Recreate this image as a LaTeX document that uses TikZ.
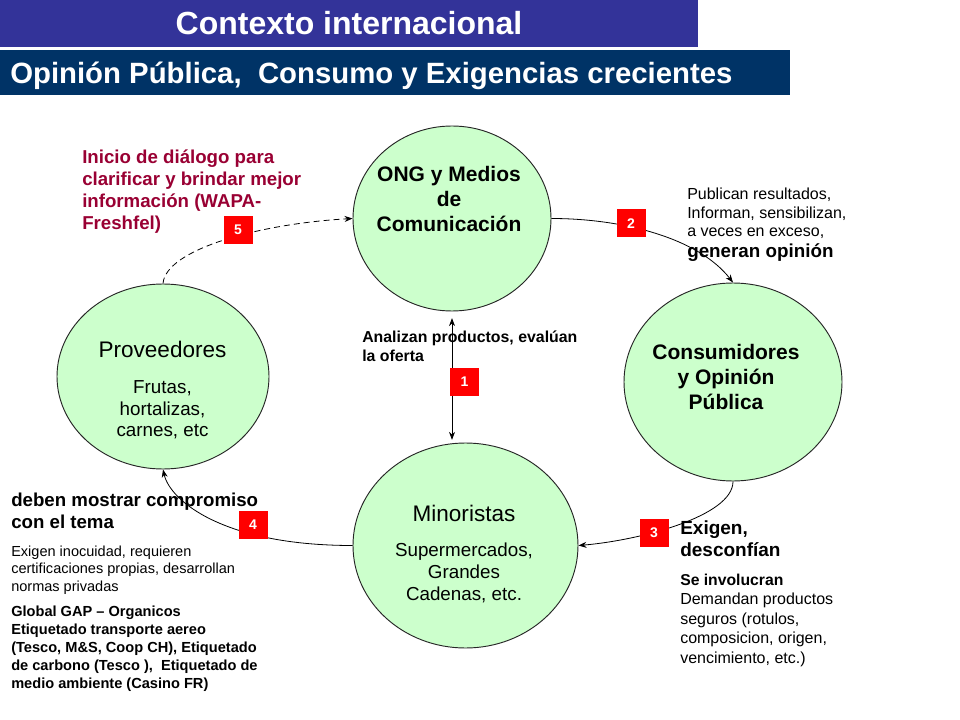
\documentclass[tikz,border=0pt]{standalone}
\usepackage{fontspec}
\setmainfont{Liberation Sans}
\usetikzlibrary{shapes.geometric,arrows.meta}

\definecolor{azultitulo}{RGB}{51,51,153}
\definecolor{azulbarra}{RGB}{0,51,102}
\definecolor{verdeactor}{RGB}{204,255,204}
\definecolor{rojonota}{RGB}{153,0,51}
\definecolor{rojopaso}{RGB}{255,0,0}

\newcommand{\fsz}[2]{\fontsize{#1}{#2}\selectfont}

\tikzset{
  actor/.style={ellipse, draw=black!85, fill=verdeactor, line width=0.7pt},
  paso/.style={fill=rojopaso, text=white, font=\fsz{10.5}{12}\bfseries,
    minimum width=21.75pt, minimum height=21pt},
  flujo/.style={->, line width=0.6pt},
}

\begin{document}
\begin{tikzpicture}[x=0.75pt,y=-0.75pt,>={Stealth[length=6pt,width=4.5pt]},
		every node/.append style={inner sep=0pt}]
		\useasboundingbox (0,0) rectangle (960,720);

		% Barras de titulo
		\fill[azultitulo] (0, 0) rectangle (698,47);
		\fill[azulbarra]  (0,50) rectangle (790,95);
		\node[anchor=base, text=white, font=\fsz{24}{28}\bfseries] (titulo) at (349,35) {Contexto internacional};
		\node[anchor=base west, text=white, font=\fsz{22}{26}\bfseries] (subtitulo) at (10,84) {Opinión Pública,\ \ Consumo y Exigencias crecientes};

		% Actores (elipses)
		\node[actor, minimum width=148.5pt,  minimum height=138.75pt] (ong)  at (452,218.5) {};
		\node[actor, minimum width=159pt,    minimum height=138.75pt] (prov) at (163,376.5) {};
		\node[actor, minimum width=163.5pt,  minimum height=148.5pt]  (cons) at (733,382)   {};
		\node[actor, minimum width=168.75pt, minimum height=153.75pt] (mino) at (465.5,545.5) {};

		% Textos dentro de las elipses (base = ultima linea)
		\node[anchor=base, align=center, font=\fsz{15.75}{19}\bfseries] (ongtxt) at (449,231.7) {ONG y Medios\\de\\Comunicación};
		\node[anchor=base, font=\fsz{16.9}{20}] (provtit) at (162.5,357.3) {Proveedores};
		\node[anchor=base, align=center, font=\fsz{14.1}{16.1}] (provtxt) at (162.5,436.7) {Frutas,\\hortalizas,\\carnes, etc};
		\node[anchor=base, align=center, font=\fsz{15.75}{18.75}\bfseries] (constxt) at (726,409) {Consumidores\\y Opinión\\Pública};
		\node[anchor=base, font=\fsz{16.9}{20}] (minotit) at (464,521.7) {Minoristas};
		\node[anchor=base, align=center, font=\fsz{14.1}{16.5}] (minotxt) at (464,600.7) {Supermercados,\\Grandes\\Cadenas, etc.};

		% Flujos entre actores
		\draw[flujo] (ong.east) .. controls +(70,0) and +(-35,-45) .. (cons.north);
		\draw[flujo] (cons.south) .. controls +(0,35) and +(60,-5) .. (mino.east);
		\draw[flujo] (mino.west) .. controls +(-130,0) and +(7,31) .. (prov.south);
		\draw[flujo, dash pattern=on 4.5pt off 3pt] (prov.north) .. controls +(3,-35) and +(-90,5) .. (ong.west);
		\draw[<->, line width=0.6pt, shorten <=5pt, shorten >=2pt] (ong.south) -- (ong.south |- mino.north);

		% Numeros de paso
		\node[paso] (p1) at (464.5,382) {1};
		\node[paso] (p2) at (631,223.5) {2};
		\node[paso] (p3) at (654,533)   {3};
		\node[paso] (p4) at (253,525)   {4};
		\node[paso] (p5) at (238,230)   {5};

		% Notas junto a los flujos
		\node[anchor=base west, align=left, text=rojonota, font=\fsz{14}{16.7}\bfseries] (dialogo) at (82,230) {Inicio de diálogo para\\clarificar y brindar mejor\\información (WAPA-\\Freshfel)};
		\node[anchor=base west, align=left, font=\fsz{12}{14}] (publican) at (687,236.7) {Publican resultados,\\Informan, sensibilizan,\\a veces en exceso,};
		\node[anchor=base west, font=\fsz{14.1}{16}\bfseries] (opinion) at (687,257.3) {generan opinión};
		\node[anchor=base west, align=left, font=\fsz{11.9}{14.25}\bfseries] (analizan) at (362,361.7) {Analizan productos, evalúan\\la oferta};
		\node[anchor=base west, align=left, font=\fsz{14}{16.7}\bfseries] (compromiso) at (11,528.3) {deben mostrar compromiso\\con el tema};
		\node[anchor=base west, align=left, font=\fsz{10.9}{13.1}] (inocuidad) at (11,591) {Exigen inocuidad, requieren\\certificaciones propias, desarrollan\\normas privadas};
		\node[anchor=base west, align=left, font=\fsz{10.95}{13.4}\bfseries] (etiquetado) at (11,688.3) {Global GAP – Organicos\\Etiquetado transporte aereo\\(Tesco, M\&S, Coop CH), Etiquetado\\de carbono (Tesco ),\ \ Etiquetado de\\medio ambiente (Casino FR)};
		\node[anchor=base west, align=left, font=\fsz{14.25}{16.5}\bfseries] (exigen) at (680,556) {Exigen,\\desconfían};
		\node[anchor=base west, font=\fsz{11.8}{14}\bfseries] (involucran) at (680,585) {Se involucran};
		\node[anchor=base west, align=left, font=\fsz{12}{14.6}] (demandan) at (680,663.3) {Demandan productos\\seguros (rotulos,\\composicion, origen,\\vencimiento, etc.)};
	\end{tikzpicture}
\end{document}
